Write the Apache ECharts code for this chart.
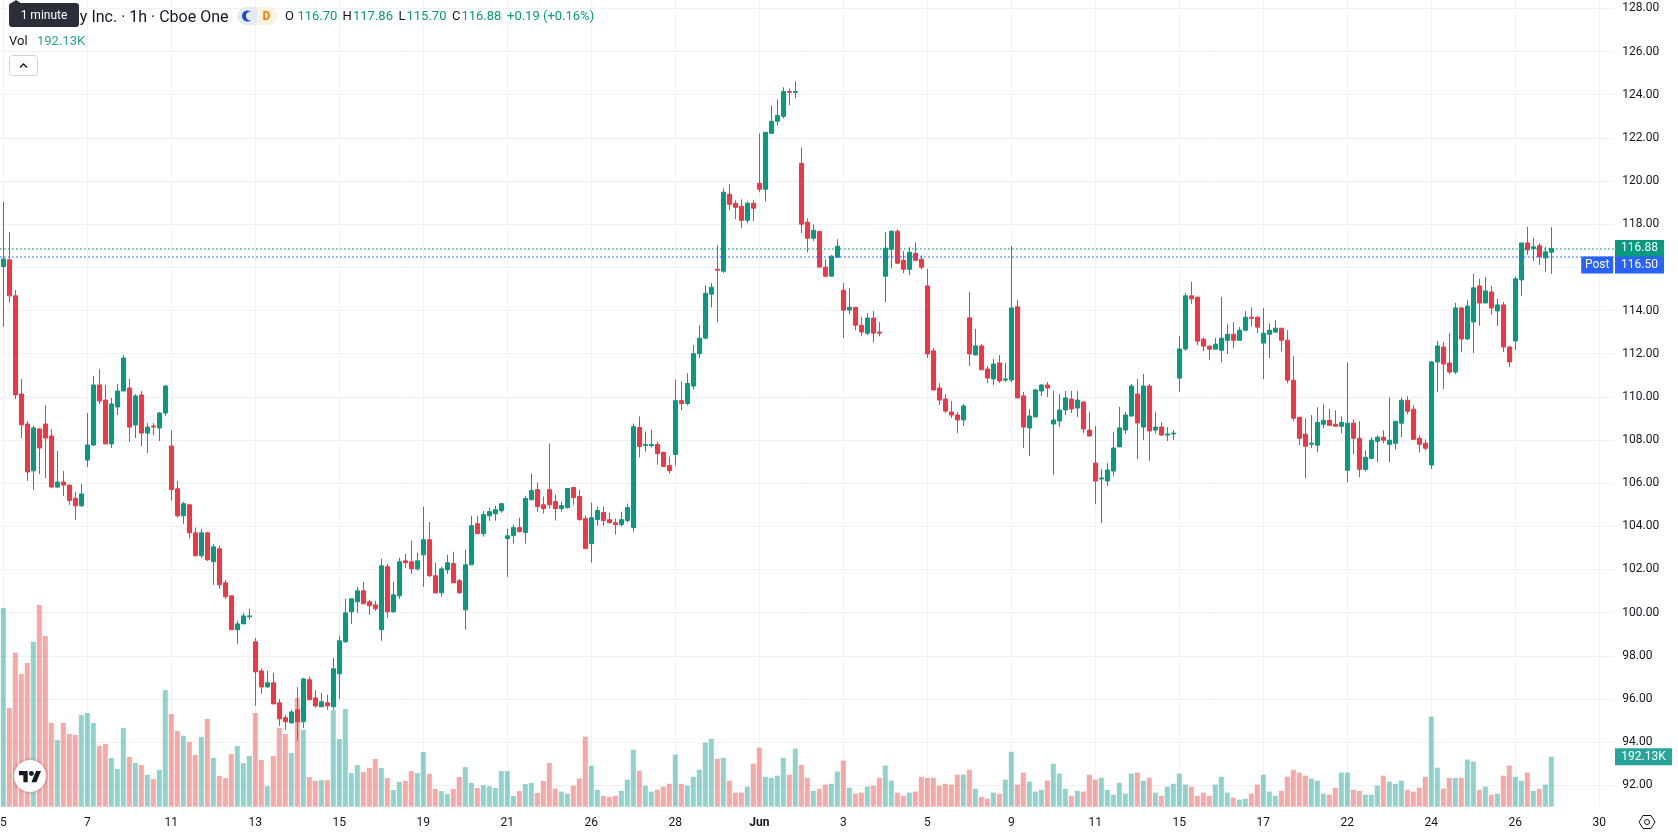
<!DOCTYPE html>
<html>
<head>
<meta charset="utf-8">
<style>html,body{margin:0;padding:0;background:#fff;overflow:hidden}#chart{width:1678px;height:835px}</style>
<script src="https://cdn.jsdelivr.net/npm/echarts@6/dist/echarts.min.js"></script>
</head>
<body>
<div id="chart"></div>
<script>
// One-hour session bars, oldest first
const opens = [
116.04,116.35,114.68,110.13,108.74,106.57,108.51,108.74,108.19,105.82,
106.05,105.91,105.30,104.95,107.07,107.77,110.55,109.85,107.82,109.53,
110.27,110.41,108.70,110.09,108.32,108.65,108.56,109.25,107.72,105.74,
104.49,105.00,103.70,102.64,103.70,102.36,102.96,101.38,100.78,99.21,
99.48,99.81,98.65,97.30,96.56,96.75,95.82,95.13,94.89,95.50,
94.94,96.89,96.05,95.64,95.82,95.64,97.17,98.65,100.04,100.50,
101.01,100.50,100.36,99.21,102.13,100.04,100.78,102.40,102.36,102.03,
102.68,103.38,101.71,100.92,101.99,102.27,101.48,100.13,102.22,104.12,
103.66,104.49,104.58,104.72,103.43,103.57,103.94,103.71,105.24,105.70,
105.00,105.70,105.15,104.82,104.87,105.80,105.38,104.36,103.20,104.31,
104.64,104.31,104.17,104.08,104.27,103.94,108.58,107.74,107.74,107.79,
107.42,106.82,107.33,109.83,109.69,110.50,112.00,112.72,114.76,115.91,
115.82,119.39,118.97,118.83,118.18,118.97,119.90,119.62,122.21,122.77,
123.00,124.15,124.11,120.82,118.09,117.35,117.67,116.01,115.59,116.47,
114.94,114.02,114.15,113.32,112.95,113.65,113.00,115.59,116.84,117.67,
116.33,115.91,116.65,116.38,115.14,112.13,110.41,109.90,109.30,109.16,
108.93,113.66,111.94,112.36,111.29,110.83,111.57,110.78,110.78,114.17,
110.04,108.56,109.07,110.27,110.55,108.74,108.88,109.39,109.90,109.48,
109.76,108.46,106.93,106.19,106.10,106.56,107.68,108.46,109.11,110.13,
108.60,110.50,108.46,108.60,108.23,108.28,110.87,112.22,114.68,114.62,
112.67,112.35,112.21,112.16,112.62,112.90,112.62,113.09,113.69,113.69,
112.49,112.90,113.00,113.18,112.62,110.77,109.05,108.27,107.80,107.76,
108.73,108.91,108.73,108.64,106.60,108.78,108.08,106.64,107.15,107.94,
108.13,107.80,107.85,108.78,109.84,109.43,108.08,107.85,106.84,111.62,
112.31,111.57,111.15,114.12,112.68,113.47,115.14,114.35,114.86,113.98,
114.26,112.31,112.59,115.42,117.13,116.86,117.00,116.44,116.70];
const closes = [
116.39,114.68,110.09,108.70,106.52,108.56,107.63,108.09,105.82,106.05,
105.91,105.20,104.95,105.50,107.77,110.55,109.81,107.82,109.67,110.27,
111.80,108.60,110.04,108.32,108.60,108.60,109.25,110.50,105.70,104.49,
105.05,103.70,102.64,103.70,102.45,103.05,101.29,100.74,99.21,99.48,
99.85,99.85,97.26,96.56,96.75,95.77,95.08,94.94,95.40,94.94,
96.93,95.96,95.68,95.87,95.68,97.40,98.70,99.99,100.64,101.01,
100.41,100.32,100.18,102.17,100.04,100.83,102.36,102.31,102.03,102.40,
103.38,101.71,100.92,102.03,102.31,101.38,100.92,102.22,104.03,103.66,
104.54,104.68,104.77,105.05,103.56,103.94,103.76,105.29,105.66,104.91,
104.82,105.00,104.82,104.96,105.75,105.33,104.31,102.97,104.40,104.73,
104.27,104.17,104.08,104.31,104.87,108.62,107.70,107.79,107.79,107.37,
106.77,106.58,109.83,109.69,110.62,112.00,112.72,114.80,115.08,115.87,
119.48,118.92,118.78,118.18,118.97,118.74,119.62,122.26,122.77,123.04,
124.15,124.11,124.15,118.00,117.35,117.72,116.01,115.59,116.52,116.98,
114.02,114.15,113.32,113.00,113.65,112.95,112.95,116.89,117.67,116.19,
115.91,116.70,116.33,116.01,111.99,110.32,109.85,109.34,109.16,108.93,
109.58,111.99,112.36,111.25,110.87,111.52,110.74,110.83,114.12,109.95,
108.60,109.11,110.32,110.55,110.41,108.93,109.39,109.95,109.44,109.85,
108.51,108.19,106.10,106.24,106.61,107.63,108.56,109.16,110.50,108.79,
110.50,108.42,108.60,108.23,108.28,108.32,112.22,114.68,114.54,112.58,
112.35,112.21,112.44,112.72,112.90,112.62,113.09,113.69,113.64,113.23,
112.95,113.09,113.18,112.62,110.77,109.01,108.08,107.71,107.85,108.82,
108.91,108.68,108.64,108.82,108.78,108.08,106.64,107.20,107.99,108.13,
107.99,107.99,108.87,109.84,109.33,108.03,107.80,107.62,111.62,112.36,
111.52,111.15,114.12,112.68,114.21,115.05,114.35,114.91,114.12,114.26,
112.31,111.62,115.47,117.13,116.81,116.95,116.49,116.72,116.88];
const lows = [
113.25,114.37,109.90,108.09,106.10,105.69,106.42,106.24,105.77,105.77,
105.40,105.00,104.30,104.90,106.75,107.72,109.67,107.82,107.63,109.16,
110.27,107.91,108.09,107.72,107.40,108.23,107.95,109.11,105.19,104.40,
104.12,103.43,102.59,102.54,102.40,101.29,101.11,100.64,99.21,98.56,
99.48,99.67,95.68,96.24,96.52,95.77,94.75,94.57,94.89,94.07,
94.66,95.96,95.59,95.64,95.50,95.50,96.00,98.60,99.48,99.99,
100.41,99.90,100.09,98.70,99.76,99.99,100.64,102.08,101.80,101.94,
101.20,101.66,100.87,100.74,101.80,101.38,100.87,99.21,102.22,103.66,
103.52,104.26,104.26,104.63,101.66,103.20,103.71,103.20,105.19,104.68,
104.59,104.82,104.27,104.68,104.82,105.00,104.27,102.97,102.32,104.03,
104.03,104.13,103.62,103.99,104.17,103.76,107.19,107.47,107.65,106.86,
106.77,106.45,106.82,109.37,109.60,110.34,111.80,112.67,114.15,113.46,
115.73,118.65,118.23,117.81,118.04,118.14,119.48,119.06,122.21,122.58,
122.90,123.51,123.83,117.58,116.70,117.21,116.01,115.54,115.59,116.47,
112.72,113.83,113.09,112.81,112.86,112.53,112.81,114.39,115.96,116.19,
115.73,115.64,116.28,115.91,111.80,110.32,109.62,109.25,109.02,108.32,
108.65,111.43,111.94,111.25,110.64,110.55,110.64,110.69,110.69,109.95,
107.63,107.26,109.07,110.04,109.99,106.38,108.60,109.16,109.25,109.07,
108.32,108.14,105.03,104.15,105.87,106.33,107.68,108.28,109.11,107.12,
108.00,107.03,108.32,108.19,107.95,108.00,110.23,112.13,114.31,112.39,
112.11,111.70,112.21,111.60,111.98,112.25,112.62,113.04,113.27,112.95,
110.82,111.79,112.95,112.11,110.63,108.87,107.76,106.23,107.62,107.43,
108.54,108.64,108.64,108.31,106.04,107.34,106.27,106.55,107.11,106.97,
107.85,106.97,107.57,108.13,109.19,108.03,107.43,107.52,106.66,110.23,
110.36,111.06,111.06,112.08,112.64,112.03,113.29,114.35,113.80,113.29,
112.08,111.38,112.17,114.68,116.58,116.30,116.11,115.79,115.70];
const highs = [
119.04,117.64,114.95,110.83,108.88,108.65,108.56,109.62,108.51,107.49,
106.56,105.91,105.60,105.96,109.25,110.97,111.29,110.55,109.95,110.60,
111.94,110.83,110.13,110.27,108.79,108.79,109.30,110.55,108.46,106.11,
105.14,105.00,103.94,103.89,103.75,103.19,103.10,101.52,100.78,99.62,
99.99,100.18,98.83,97.40,97.30,97.21,96.00,95.26,95.50,96.56,
96.98,97.03,96.42,96.28,96.19,97.91,98.93,100.64,100.64,101.20,
101.43,100.60,100.55,102.50,102.27,101.43,102.54,102.73,103.33,102.78,
104.91,104.21,102.31,102.13,102.68,102.82,101.57,102.91,104.49,104.49,
104.72,104.86,104.96,105.09,103.89,104.08,104.40,105.42,106.45,106.03,
105.38,107.84,105.47,105.15,105.75,105.80,105.70,104.50,105.10,104.92,
104.92,104.64,104.36,104.68,105.05,108.76,109.09,108.39,108.49,107.93,
107.47,107.23,110.80,110.71,111.10,112.40,113.32,115.17,115.27,117.02,
119.66,119.85,119.11,119.15,119.06,119.11,122.21,122.26,123.51,123.78,
124.34,124.29,124.62,121.56,118.27,118.00,117.67,116.38,116.56,117.30,
115.27,115.03,114.15,113.69,113.88,113.97,113.46,117.63,117.72,117.77,
116.75,116.93,117.16,116.56,115.93,112.27,110.64,110.13,109.81,109.30,
109.67,114.86,113.15,112.45,111.43,111.76,111.94,111.57,116.99,114.49,
110.23,109.44,110.37,110.60,110.69,110.27,110.13,110.27,110.27,110.27,
109.76,109.30,108.65,106.65,106.93,108.37,109.53,109.30,110.60,110.83,
111.06,110.60,109.30,108.83,108.60,108.46,112.82,114.82,115.33,114.62,
112.76,112.39,112.72,114.62,113.37,113.46,113.23,113.97,114.15,113.74,
114.11,113.41,113.55,113.18,113.09,111.88,109.05,109.01,109.15,109.52,
109.66,109.43,109.38,109.10,111.60,108.96,108.87,107.52,108.13,108.22,
108.45,109.98,108.87,109.98,110.03,109.61,108.22,108.03,111.66,112.59,
112.54,112.96,114.35,114.17,114.49,115.70,115.47,115.56,115.14,114.54,
114.40,112.36,115.56,117.13,117.88,117.37,117.13,116.95,117.86];
// Traded volume per bar, in thousands
const volumes = [
763,379,591,510,552,633,775,656,322,256,
322,279,275,352,360,322,233,241,187,145,
302,191,168,160,122,106,141,448,356,291,
272,249,199,268,337,187,118,110,202,233,
168,195,360,179,79,195,302,279,206,418,
295,114,99,102,102,371,260,375,129,160,
133,149,183,149,110,64,95,99,137,129,
210,126,68,60,49,68,114,152,91,72,
83,79,72,137,137,41,60,87,91,53,
99,168,69,58,50,81,108,269,158,65,
42,38,42,61,104,219,138,81,58,65,
77,88,200,88,81,115,142,246,261,184,
188,100,54,54,77,165,227,115,111,119,
188,123,223,161,111,61,69,85,88,135,
177,73,50,54,77,81,111,158,100,54,
42,54,58,115,111,111,81,88,85,123,
123,142,69,38,31,54,50,104,211,85,
131,96,58,65,100,165,127,69,42,61,
58,123,104,111,65,46,92,50,127,131,
100,111,54,42,77,88,127,85,77,42,
54,42,85,115,54,35,27,31,50,85,
123,58,42,61,115,142,131,119,108,100,
50,46,73,131,131,65,61,46,46,81,
119,96,88,100,65,58,73,115,346,150,
69,111,111,111,181,173,65,77,46,50,
119,158,115,100,131,61,69,85,192.13];
// Session labels, one every fourteen bars
const sessionLabels = ['5','7','11','13','15','19','21','26','28','Jun','3','5','9','11','15','17','22','24','26','30'];
const barsPerLabel = 14;
const slotCount = 269;
const priceTicks = { min: 92, max: 128, step: 2 };
const lastPrice = 116.88;
const postPrice = 116.50;
const lastVolume = 192.13;
const headerQuote = [['O','116.70'],['H','117.86'],['L','115.70'],['C','116.88']];
const headerChange = '+0.19 (+0.16%)';
const headerTitle = 'y Inc. \u00b7 1h \u00b7 Cboe One';

const UP = '#089981', DOWN = '#F23645', POST = '#2962FF', INK = '#131722', GRID = '#f0f1f4', VOL_TEXT = '#26A69A';
const FONT = 'Roboto, "Noto Sans", sans-serif';

const categories = Array.from({ length: slotCount }, (_, i) =>
  i % barsPerLabel === 0 ? sessionLabels[i / barsPerLabel] : '·' + i);
const candles = opens.map((o, i) => [o, closes[i], lows[i], highs[i]]);
const volumeBars = volumes.map((v, i) => ({
  value: v,
  itemStyle: { color: closes[i] >= opens[i] ? 'rgba(38,166,154,0.5)' : 'rgba(239,83,80,0.5)' }
}));

const lastSlot = slotCount - 1;
function priceTag(y, text, color, size, offset) {
  return {
    coord: [lastSlot, y], symbol: 'rect', symbolSize: size, symbolOffset: offset,
    itemStyle: { color },
    label: { show: true, position: 'inside', formatter: text, color: '#fff', fontSize: 12, fontFamily: FONT, padding: [3, 0, 0, 0] }
  };
}

// Header row pieces, laid out left to right
const headerXs = [[285, 297.4], [342.4, 353], [398.6, 406.5], [452, 461.4]];
const headerTexts = [];
headerQuote.forEach((q, i) => {
  headerTexts.push({ type: 'text', x: headerXs[i][0], y: 17, style: { text: q[0], fill: INK, font: '13px ' + FONT, textVerticalAlign: 'middle' } });
  headerTexts.push({ type: 'text', x: headerXs[i][1], y: 17, style: { text: q[1], fill: UP, font: '13px ' + FONT, textVerticalAlign: 'middle' } });
});

// Watermark glyph outline
const logoScale = 0.62, logoX = 19, logoY = 768.5;
const logoPoint = p => [logoX + p[0] * logoScale, logoY + p[1] * logoScale];
const logoT = [[14, 22], [7, 22], [7, 11], [0, 11], [0, 4], [14, 4]].map(logoPoint);
const logoV = [[28, 22], [20, 22], [27.5, 4], [35.5, 4]].map(logoPoint);

const option = {
  animation: false,
  backgroundColor: '#fff',
  grid: [
    { left: 0.3, width: 1614, top: 8.4, height: 776.9, outerBoundsMode: 'none' },
    { left: 0.3, width: 1614, top: 0, height: 806.7, outerBoundsMode: 'none' }
  ],
  xAxis: [
    { type: 'category', gridIndex: 0, data: categories, show: false, boundaryGap: true },
    {
      type: 'category', gridIndex: 1, data: categories, boundaryGap: true,
      axisLine: { show: false }, axisTick: { show: false },
      axisLabel: {
        interval: barsPerLabel - 1, showMinLabel: true, hideOverlap: false, color: INK, fontSize: 12, fontFamily: FONT, margin: 10,
        formatter: v => (v === 'Jun' ? '{b|Jun}' : v),
        rich: { b: { fontWeight: 'bold', fontSize: 12, color: INK, fontFamily: FONT } }
      },
      splitLine: { show: true, interval: barsPerLabel - 1, alignWithLabel: true, lineStyle: { color: GRID, width: 1 } }
    }
  ],
  yAxis: [
    {
      type: 'value', gridIndex: 0, position: 'right',
      min: priceTicks.min, max: priceTicks.max, interval: priceTicks.step,
      axisLine: { show: false }, axisTick: { show: false },
      axisLabel: { color: INK, fontSize: 12, fontFamily: FONT, margin: 8, padding: [3, 0, 0, 0], formatter: v => v.toFixed(2) },
      splitLine: { show: true, lineStyle: { color: GRID, width: 1 } }
    },
    { type: 'value', gridIndex: 1, min: 0, max: 3098, show: false, splitLine: { show: false } }
  ],
  series: [
    {
      name: 'Vol', type: 'bar', xAxisIndex: 1, yAxisIndex: 1, barWidth: 5, data: volumeBars, silent: true,
      markPoint: {
        silent: true, animation: false,
        data: [priceTag(lastVolume, '192.13K', VOL_TEXT, [57, 17], [32.2, 0])]
      }
    },
    {
      name: 'Price', type: 'candlestick', xAxisIndex: 0, yAxisIndex: 0, barWidth: 5, data: candles, silent: true,
      clip: false,
      itemStyle: { color: UP, color0: DOWN, borderColor: UP, borderColor0: DOWN, borderColorDoji: UP, borderWidth: 1 },
      markLine: {
        silent: true, animation: false, symbol: 'none', label: { show: false },
        data: [
          { yAxis: lastPrice, lineStyle: { color: UP, type: [1.2, 2.8], width: 1.6, opacity: 1 } },
          { yAxis: postPrice, lineStyle: { color: POST, type: [1.2, 2.8], width: 1.6, opacity: 1 } }
        ]
      },
      markPoint: {
        silent: true, animation: false,
        data: [
          priceTag(lastPrice, '116.88', UP, [49, 17], [28.2, 0]),
          priceTag(postPrice, '116.50', POST, [49, 17], [28.2, 8.5]),
          priceTag(postPrice, 'Post', POST, [32, 17], [-14.1, 8.5])
        ]
      }
    }
  ],
  graphic: [
    // Symbol title, partly covered by the interval tooltip
    { type: 'text', x: 228.5, y: 17.5, z: 50, style: { text: headerTitle, fill: INK, font: '16px ' + FONT, textAlign: 'right', textVerticalAlign: 'middle' } },
    // Interval tooltip
    { type: 'polygon', z: 51, shape: { points: [[16, 0], [22, 4], [10, 4]] }, style: { fill: '#2A2E39' } },
    { type: 'rect', z: 51, shape: { x: 9, y: 3, width: 70, height: 24, r: 3 }, style: { fill: '#2A2E39' } },
    { type: 'text', z: 52, x: 44, y: 16, style: { text: '1 minute', fill: '#fff', font: '12px ' + FONT, textAlign: 'center', textVerticalAlign: 'middle' } },
    // Session status badges
    { type: 'rect', z: 50, shape: { x: 237, y: 7, width: 20, height: 18, r: [9, 0, 0, 9] }, style: { fill: '#E3EAFC' } },
    { type: 'rect', z: 50, shape: { x: 257, y: 7, width: 20, height: 18, r: [0, 9, 9, 0] }, style: { fill: '#FFF3E0' } },
    { type: 'circle', z: 51, shape: { cx: 247.5, cy: 16, r: 5.5 }, style: { fill: '#1848CC' } },
    { type: 'circle', z: 52, shape: { cx: 250.5, cy: 16, r: 4.6 }, style: { fill: '#E3EAFC' } },
    { type: 'text', z: 51, x: 266.5, y: 16.5, style: { text: 'D', fill: '#F57C00', font: 'bold 12px ' + FONT, textAlign: 'center', textVerticalAlign: 'middle' } },
    // Open, high, low, close readout
    ...headerTexts.map(t => Object.assign({ z: 50 }, t)),
    { type: 'text', z: 50, x: 507, y: 17, style: { text: headerChange, fill: UP, font: '13px ' + FONT, textVerticalAlign: 'middle' } },
    // Volume readout
    { type: 'text', z: 50, x: 9, y: 41.5, style: { text: 'Vol', fill: INK, font: '13px ' + FONT, textVerticalAlign: 'middle' } },
    { type: 'text', z: 50, x: 37, y: 41.5, style: { text: '192.13K', fill: VOL_TEXT, font: '13px ' + FONT, textVerticalAlign: 'middle' } },
    // Collapse button
    { type: 'rect', z: 50, shape: { x: 9.5, y: 55.5, width: 28, height: 20, r: 3 }, style: { fill: '#fff', stroke: '#D1D4DC', lineWidth: 1 } },
    { type: 'polyline', z: 51, shape: { points: [[20, 67.5], [23.5, 64], [27, 67.5]] }, style: { stroke: INK, fill: 'none', lineWidth: 1.4 } },
    // Watermark badge
    { type: 'circle', z: 50, shape: { cx: 30, cy: 776, r: 16 }, style: { fill: '#fff', shadowBlur: 4, shadowColor: 'rgba(0,0,0,0.3)' } },
    { type: 'polygon', z: 51, shape: { points: logoT }, style: { fill: '#131722' } },
    { type: 'polygon', z: 51, shape: { points: logoV }, style: { fill: '#131722' } },
    { type: 'circle', z: 51, shape: { cx: logoX + 20 * logoScale, cy: logoY + 8 * logoScale, r: 4 * logoScale }, style: { fill: '#131722' } },
    // Scale settings icon
    { type: 'polygon', z: 50, shape: { points: [[1639, 822], [1643, 815.5], [1651, 815.5], [1655, 822], [1651, 828.5], [1643, 828.5]] }, style: { fill: 'none', stroke: INK, lineWidth: 1 } },
    { type: 'circle', z: 50, shape: { cx: 1647, cy: 822, r: 2.5 }, style: { fill: 'none', stroke: INK, lineWidth: 1 } }
  ]
};

const chart = echarts.init(document.getElementById('chart'), null, { renderer: 'canvas' });
chart.setOption(option);
</script>
</body>
</html>
